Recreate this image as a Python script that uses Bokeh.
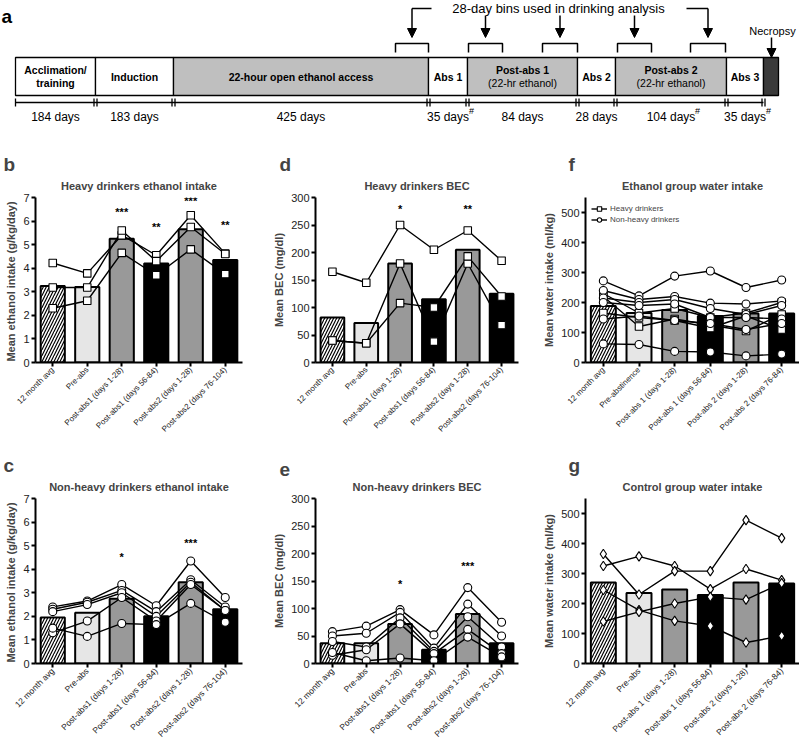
import math
from bokeh.plotting import figure
from bokeh.layouts import column, row
from bokeh.models import (Range1d, FactorRange, FixedTicker, Title, Legend, LegendItem,
                          Arrow, NormalHead)
from bokeh.embed import file_html
from bokeh.resources import INLINE

FONT = "Liberation Sans"

# ---------------- data ----------------
# panel a: timeline phases
phase_line1 = ["Acclimation/", "Induction", "22-hour open ethanol access", "Abs 1",
               "Post-abs 1", "Abs 2", "Post-abs 2", "Abs 3", ""]
phase_line2 = ["training", "", "", "", "(22-hr ethanol)", "", "(22-hr ethanol)", "", ""]
phase_days = ["184 days", "183 days", "425 days", "35 days", "84 days", "28 days",
              "104 days", "35 days"]
phase_hash = [False, False, False, True, False, False, True, True]
phase_kind = ["open", "open", "ethanol", "open", "ethanol", "open", "ethanol", "open", "end"]
bins_title = "28-day bins used in drinking analysis"

# panels b-g
cats_main = ["12 month avg", "Pre-abs", "Post-abs1 (days 1-28)", "Post-abs1 (days 56-84)",
             "Post-abs2 (days 1-28)", "Post-abs2 (days 76-104)"]
cats_f = ["12 month avg", "Pre-abstinence", "Post-abs 1 (days 1-28)", "Post-abs 1 (days 56-84)",
          "Post-abs 2 (days 1-28)", "Post-abs 2 (days 76-84)"]
cats_g = ["12 month avg", "Pre-abs", "Post-abs 1 (days 1-28)", "Post-abs 1 (days 56-84)",
          "Post-abs 2 (days 1-28)", "Post-abs 2 (days 76-84)"]

b_bars = [3.25, 3.2, 5.25, 4.2, 5.65, 4.35]
b_animals = [[4.22, 3.78, 5.4, 4.55, 6.25, 4.62],
             [3.18, 3.18, 5.6, 4.3, 5.75, 4.6],
             [2.3, 2.62, 4.65, 3.7, 4.8, 3.75]]
b_stars = ["", "", "***", "**", "***", "**"]
b_star_y = [0, 0, 6.4, 5.75, 6.85, 5.85]

c_bars = [1.95, 2.15, 2.75, 2.0, 3.45, 2.3]
c_animals = [[2.4, 2.65, 3.35, 2.45, 4.35, 2.8],
             [2.3, 2.6, 3.1, 2.2, 3.55, 2.4],
             [2.2, 2.5, 3.0, 2.0, 3.45, 2.25],
             [1.3, 1.8, 2.8, 1.8, 3.35, 2.25],
             [1.5, 1.15, 1.7, 1.65, 2.55, 1.75]]
c_stars = ["", "", "*", "", "***", ""]
c_star_y = [0, 0, 4.5, 0, 5.1, 0]

d_bars = [82, 72, 180, 115, 205, 125]
d_animals = [[165, 145, 250, 205, 240, 185],
             [40, 35, 180, 38, 180, 68],
             [40, 35, 108, 100, 193, 120]]
d_stars = ["", "", "*", "", "**", ""]
d_star_y = [0, 0, 280, 0, 280, 0]

e_bars = [37, 37, 72, 25, 90, 37]
e_animals = [[58, 68, 98, 52, 138, 75],
             [50, 55, 93, 28, 108, 50],
             [40, 30, 83, 22, 85, 30],
             [15, 25, 72, 18, 62, 18],
             [20, 5, 10, 5, 48, 12]]
e_stars = ["", "", "*", "", "***", ""]
e_star_y = [0, 0, 145, 0, 178, 0]

f_bars = [188, 165, 175, 155, 163, 163]
f_heavy = [[230, 165, 180, 150, 165, 200],
           [220, 120, 145, 125, 105, 160],
           [165, 150, 140, 115, 155, 110]]
f_nonheavy = [[272, 222, 288, 305, 250, 275],
              [240, 210, 220, 198, 195, 205],
              [215, 200, 210, 180, 160, 190],
              [200, 190, 195, 150, 150, 145],
              [145, 155, 140, 130, 110, 130],
              [62, 60, 37, 35, 22, 28]]

g_bars = [270, 235, 247, 228, 270, 267]
g_animals = [[325, 357, 325, 248, 315, 278],
             [365, 230, 308, 308, 478, 418],
             [245, 178, 142, 125, 70, 92],
             [140, 172, 200, 222, 213, 268]]

# ---------------- styles / layout ----------------
kind_fill = {"open": "white", "ethanol": "#bfbfbf", "end": "#3a3a3a"}
bounds = [15, 95, 173, 428, 467, 577, 615, 726, 763, 778]   # timeline layout (px)
bins = [(395, 428), (468, 502), (542, 577), (617, 651), (690, 725)]
bar_fills = ["white", "#e6e6e6", "#999999", "black", "#999999", "black"]
bar_hatch = ["/", " ", " ", " ", " ", " "]

# ---------------- panel a ----------------
pa = figure(width=800, height=140, x_range=Range1d(0, 800), y_range=Range1d(140, 0),
            x_axis_type=None, y_axis_type=None, output_backend="svg",
            toolbar_location=None, min_border=0, title=None)
pa.grid.visible = False
pa.outline_line_color = None

pa.quad(left=bounds[:-1], right=bounds[1:], top=57, bottom=95,
        fill_color=[kind_fill[k] for k in phase_kind], line_color="black", line_width=1.3)

mids = [(bounds[i] + bounds[i + 1]) / 2 for i in range(len(bounds) - 1)]
for i, (t1, t2) in enumerate(zip(phase_line1, phase_line2)):
    if not t1:
        continue
    if t2:
        pa.text(x=[mids[i]], y=[69], text=[t1], text_align="center", text_baseline="middle",
                text_font_size="10.5px", text_font_style="bold", text_font={"value": FONT})
        pa.text(x=[mids[i]], y=[82], text=[t2], text_align="center", text_baseline="middle",
                text_font_size="10.5px",
                text_font_style="bold" if t2 == "training" else "normal",
                text_font={"value": FONT})
    else:
        pa.text(x=[mids[i]], y=[76], text=[t1], text_align="center", text_baseline="middle",
                text_font_size="10.5px", text_font_style="bold", text_font={"value": FONT})

# ruler
pa.segment(x0=[bounds[0]], y0=[102], x1=[bounds[-2]], y1=[102], line_color="black", line_width=1.5)
tick_x = [bounds[0]]
for bx in bounds[1:-1]:
    tick_x += [bx - 1.5, bx + 1.5]
pa.segment(x0=tick_x, y0=[98] * len(tick_x), x1=tick_x, y1=[106] * len(tick_x),
           line_color="black", line_width=1.3)
day_x = mids[:len(phase_days)]
pa.text(x=day_x, y=[116] * len(day_x), text=phase_days, text_align="center",
        text_baseline="middle", text_font_size="12px", text_font={"value": FONT})
hx = [x for x, h in zip(day_x, phase_hash) if h]
hoff = [len(t) * 3.0 for t, h in zip(phase_days, phase_hash) if h]
pa.text(x=hx, y=[110] * len(hx), x_offset=hoff, text=["#"] * len(hx), text_align="left",
        text_baseline="middle", text_font_size="9px", text_font={"value": FONT})

# bins brackets and arrows
for l, r in bins:
    pa.line(x=[l, l, r, r], y=[52, 43, 43, 52], line_color="black", line_width=1.5)
centers = [(l + r) / 2 for l, r in bins]
pa.text(x=[558], y=[8], text=[bins_title], text_align="center", text_baseline="middle",
        text_font_size="13px", text_font={"value": FONT})
pa.line(x=[centers[0], 431], y=[8, 8], line_color="black", line_width=1.5)
pa.line(x=[686, centers[-1]], y=[8, 8], line_color="black", line_width=1.5)
for i, cx in enumerate(centers):
    ys = 8 if i in (0, len(centers) - 1) else 15
    pa.add_layout(Arrow(end=NormalHead(size=9, fill_color="black", line_color="black"),
                        x_start=cx, y_start=ys, x_end=cx, y_end=37, line_width=1.5))
pa.text(x=[772], y=[30], text=["Necropsy"], text_align="center", text_baseline="middle",
        text_font_size="11px", text_font={"value": FONT})
pa.add_layout(Arrow(end=NormalHead(size=9, fill_color="black", line_color="black"),
                    x_start=771, y_start=37, x_end=771, y_end=57, line_width=1.5))
pa.text(x=[1], y=[16], text=["a"], text_align="left", text_baseline="middle",
        text_font_size="19px", text_font_style="bold", text_font={"value": FONT})


# ---------------- panels b-g ----------------
def make_panel(letter, title, ylabel, cats, bars, groups, ymax, ticks, stars, star_y,
               w, h, mb, letter_off, xfs, legend_labels=None):
    left, right, top, bottom = mb
    p = figure(width=w, height=h, x_range=FactorRange(factors=cats, range_padding=0),
               y_range=Range1d(0, ymax), output_backend="svg", toolbar_location=None,
               title=None, min_border_left=left, min_border_right=right,
               min_border_top=top, min_border_bottom=bottom)
    p.grid.visible = False
    p.outline_line_color = None
    p.vbar(x=cats, top=bars, width=0.7, fill_color=bar_fills, line_color="black",
           line_width=2, hatch_pattern=bar_hatch, hatch_color="black", hatch_scale=6,
           hatch_weight=1.2)
    line_rs = []
    for series_list, marker, msize in groups:
        line_rs.append([p.line(x=cats, y=s, line_color="black", line_width=1.4)
                        for s in series_list])
    mark_rs = []
    for series_list, marker, msize in groups:
        mark_rs.append([p.scatter(x=cats, y=s, marker=marker, size=msize, fill_color="white",
                                  line_color="black", line_width=1.1)
                        for s in series_list])
    sx = [c for c, s in zip(cats, stars) if s]
    sy = [y for y, s in zip(star_y, stars) if s]
    st = [s for s in stars if s]
    if st:
        p.text(x=sx, y=sy, text=st, text_align="center", text_baseline="middle",
               text_font_size="11px", text_font_style="bold", text_font={"value": FONT})
    if legend_labels:
        items = [LegendItem(label=lab, renderers=[line_rs[i][0], mark_rs[i][0]])
                 for i, lab in enumerate(legend_labels)]
        lg = Legend(items=items, location="top_left", label_text_font_size="8px",
                    label_text_font=FONT, glyph_width=16, glyph_height=11, spacing=0,
                    padding=2, margin=6, border_line_color=None, background_fill_alpha=0,
                    label_standoff=3, label_height=11)
        p.add_layout(lg)

    for ax in p.axis:
        ax.axis_line_width = 2
        ax.axis_line_color = "black"
        ax.major_tick_line_width = 2
        ax.major_tick_line_color = "black"
        ax.minor_tick_line_color = None
        ax.major_tick_out = 4
        ax.major_tick_in = 0
        ax.major_label_text_font = FONT
        ax.major_label_text_color = "#222222"
        ax.major_label_standoff = 2
    p.yaxis.ticker = FixedTicker(ticks=ticks)
    p.yaxis.major_label_text_font_size = "11px"
    p.yaxis.axis_label = ylabel
    p.yaxis.axis_label_text_font = FONT
    p.yaxis.axis_label_text_font_size = "11px"
    p.yaxis.axis_label_text_font_style = "bold"
    p.yaxis.axis_label_standoff = 3
    p.xaxis.major_label_orientation = math.pi / 4
    p.xaxis.major_label_text_font_size = xfs

    p.add_layout(Title(text=title, align="center", text_font_size="11px",
                       text_font_style="bold", text_font=FONT, standoff=11), "above")
    p.add_layout(Title(text=letter, align="left", offset=letter_off, text_font_size="19px",
                       text_font_style="bold", text_font=FONT, standoff=-4), "above")
    return p


eth_ticks = list(range(0, 8))
bec_ticks = list(range(0, 301, 50))
wat_ticks = list(range(0, 501, 100))

R1 = (304, 57, 82, "8px")   # row 1: height, top border, bottom border, x label font
R2 = (304, 54, 85, "8.5px")

pb = make_panel("b", "Heavy drinkers ethanol intake", "Mean ethanol intake  (g/kg/day)",
                cats_main, b_bars, [(b_animals, "square", 7.5)], 7, eth_ticks, b_stars, b_star_y,
                270, R1[0], (35, 28, R1[1], R1[2]), -32, R1[3])
pd = make_panel("d", "Heavy drinkers BEC", "Mean BEC (mg/dl)",
                cats_main, d_bars, [(d_animals, "square", 7.5)], 300, bec_ticks, d_stars, d_star_y,
                270, R1[0], (39, 22, R1[1], R1[2]), -36, R1[3])
pf = make_panel("f", "Ethanol group water intake", "Mean water intake (ml/kg)",
                cats_f, f_bars, [(f_heavy, "square", 7.5), (f_nonheavy, "circle", 8)], 550,
                wat_ticks, [""] * 6, [0] * 6, 259, R1[0], (45, 0, R1[1], R1[2]), -17, R1[3],
                legend_labels=["Heavy drinkers", "Non-heavy drinkers"])
pc = make_panel("c", "Non-heavy drinkers ethanol intake", "Mean ethanol intake  (g/kg/day)",
                cats_main, c_bars, [(c_animals, "circle", 8)], 7, eth_ticks, c_stars, c_star_y,
                270, R2[0], (35, 28, R2[1], R2[2]), -32, R2[3])
pe = make_panel("e", "Non-heavy drinkers BEC", "Mean BEC (mg/dl)",
                cats_main, e_bars, [(e_animals, "circle", 8)], 300, bec_ticks, e_stars, e_star_y,
                270, R2[0], (39, 22, R2[1], R2[2]), -36, R2[3])
pg = make_panel("g", "Control group water intake", "Mean water intake (ml/kg)",
                cats_g, g_bars, [(g_animals, "diamond", 9.5)], 550, wat_ticks, [""] * 6, [0] * 6,
                259, R2[0], (45, 0, R2[1], R2[2]), -17, R2[3])

layout = column(pa, row(pb, pd, pf), row(pc, pe, pg))
open("out.html", "w").write(file_html(layout, INLINE))
